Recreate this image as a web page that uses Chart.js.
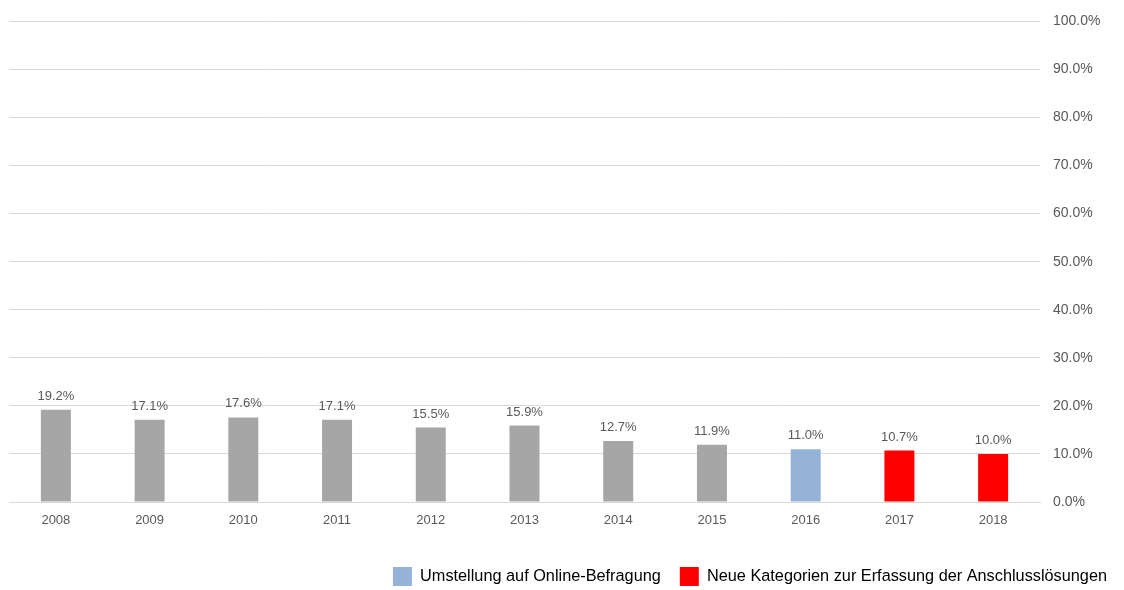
<!DOCTYPE html>
<html>
<head>
<meta charset="utf-8">
<script src="https://cdn.jsdelivr.net/npm/chart.js@4"></script>
<style>
  html, body { margin: 0; padding: 0; background: #fff; }
  #wrap { width: 1124px; height: 590px; }
</style>
</head>
<body>
<div id="wrap"><canvas id="c" width="1124" height="590"></canvas></div>
<script>
const years = ["2008","2009","2010","2011","2012","2013","2014","2015","2016","2017","2018"];
const shares = [19.2, 17.1, 17.6, 17.1, 15.5, 15.9, 12.7, 11.9, 11.0, 10.7, 10.0];
const barGroups = ["base","base","base","base","base","base","base","base","online","neu","neu"];
const legendLabels = ["Umstellung auf Online-Befragung", "Neue Kategorien zur Erfassung der Anschlusslösungen"];
const legendGroups = ["online", "neu"];

const groupColors = { base: "#a6a6a6", online: "#95b3d7", neu: "#ff0000" };
const FONT = "'Liberation Sans', Arial, sans-serif";
const TEXT = "#595959";

const valueLabels = {
  id: "valueLabels",
  afterDatasetsDraw(chart) {
    const ctx = chart.ctx;
    const meta = chart.getDatasetMeta(0);
    ctx.save();
    ctx.font = "13px " + FONT;
    ctx.fillStyle = TEXT;
    ctx.textAlign = "center";
    ctx.textBaseline = "bottom";
    meta.data.forEach((bar, i) => {
      ctx.fillText(shares[i].toFixed(1) + "%", bar.x, bar.y - 7);
    });
    ctx.restore();
  }
};

new Chart(document.getElementById("c"), {
  type: "bar",
  data: {
    labels: years,
    datasets: [{
      data: shares,
      backgroundColor: barGroups.map(g => groupColors[g]),
      barPercentage: 0.32,
      categoryPercentage: 1.0
    }]
  },
  options: {
    responsive: false,
    animation: false,
    layout: { padding: { left: 9, right: -2, top: 11, bottom: -6 } },
    scales: {
      x: {
        grid: { display: false, drawTicks: false },
        border: { color: "#d9d9d9" },
        ticks: { color: TEXT, font: { family: FONT, size: 13 }, padding: 11 },
        afterFit: axis => { axis.height = 46; }
      },
      y: {
        position: "right",
        min: 0, max: 100,
        ticks: {
          stepSize: 10,
          color: TEXT,
          font: { family: FONT, size: 14 },
          padding: 13,
          callback: v => v.toFixed(1) + "%"
        },
        grid: { color: "#d9d9d9", drawTicks: false },
        border: { display: false },
        afterFit: axis => { axis.width = 86; }
      }
    },
    plugins: {
      tooltip: { enabled: false },
      legend: {
        position: "bottom",
        align: "end",
        labels: {
          font: { family: FONT, size: 16.3 },
          color: "#222",
          boxWidth: 19,
          boxHeight: 19,
          padding: 19,
          generateLabels: () => legendLabels.map((t, i) => ({
            text: t,
            fillStyle: groupColors[legendGroups[i]],
            strokeStyle: groupColors[legendGroups[i]],
            lineWidth: 0,
            hidden: false,
            index: i
          }))
        }
      }
    }
  },
  plugins: [valueLabels]
});
</script>
</body>
</html>
